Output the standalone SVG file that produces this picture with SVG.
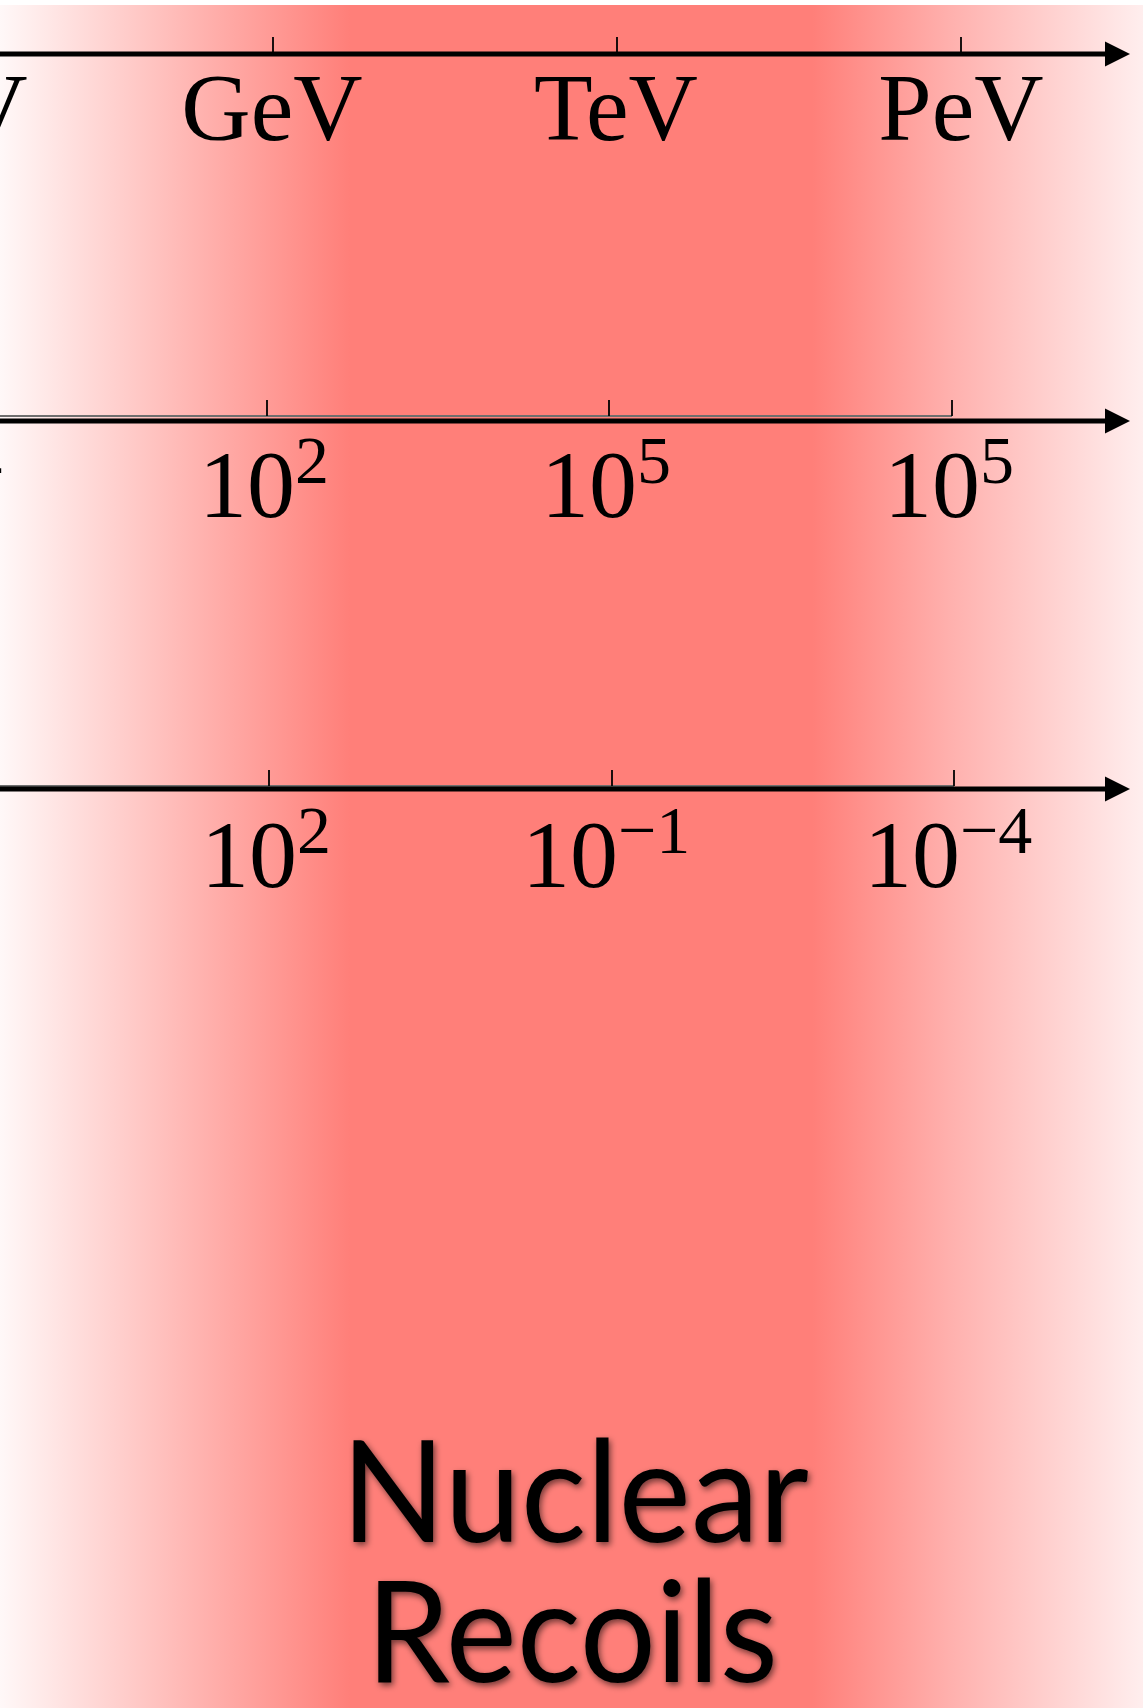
<svg xmlns="http://www.w3.org/2000/svg" width="1143" height="1708" viewBox="0 0 1143 1708">
  <defs>
    <linearGradient id="bg" x1="0" y1="0" x2="1143" y2="0" gradientUnits="userSpaceOnUse">
      <stop offset="0" stop-color="#fff8f8"/>
      <stop offset="0.306" stop-color="#ff7f79"/>
      <stop offset="0.711" stop-color="#ff7f79"/>
      <stop offset="0.83" stop-color="#ffb0ad"/>
      <stop offset="1" stop-color="#ffeeee"/>
    </linearGradient>
    <filter id="shadow" x="-10%" y="-20%" width="120%" height="140%">
      <feDropShadow dx="2" dy="3" stdDeviation="3" flood-color="#000" flood-opacity="0.55"/>
    </filter>
    <style>
      .axis { stroke: #000; stroke-width: 5; fill: none; }
      .guide { stroke: #6e6e6e; stroke-width: 2; fill: none; }
      .tick { stroke: #000; stroke-width: 1.8; fill: none; }
      .head { fill: #000; }
      .lbl { font-family: "Liberation Serif", "Times New Roman", serif; font-size: 96px; fill: #000; }
      .sup { font-size: 68px; }
      .title { font-family: Lato, "Open Sans", sans-serif; font-size: 141px; fill: #000; text-anchor: middle; filter: url(#shadow); }
    </style>
  </defs>

  <rect x="0" y="0" width="1143" height="1708" fill="#ffffff"/>
  <rect x="0" y="5" width="1143" height="1703" fill="url(#bg)"/>

  <g id="axis-energy">
    <line class="axis" x1="-10" y1="54" x2="1108" y2="54"/>
    <polygon class="head" points="1105,41.5 1130,54 1105,66.5"/>
    <line class="tick" x1="273" y1="37" x2="273" y2="52"/>
    <line class="tick" x1="617" y1="37" x2="617" y2="52"/>
    <line class="tick" x1="961" y1="37" x2="961" y2="52"/>
    <text class="lbl" x="-71" y="140" text-anchor="middle">MeV</text>
    <text class="lbl" x="272" y="140" text-anchor="middle">GeV</text>
    <text class="lbl" x="616" y="140" text-anchor="middle">TeV</text>
    <text class="lbl" x="961" y="140" text-anchor="middle">PeV</text>
  </g>

  <g id="axis-second">
    <line class="guide" x1="-10" y1="416" x2="952" y2="416"/>
    <line class="axis" x1="-10" y1="421" x2="1108" y2="421"/>
    <polygon class="head" points="1105,408.5 1130,421 1105,433.5"/>
    <line class="tick" x1="267" y1="400" x2="267" y2="416"/>
    <line class="tick" x1="609" y1="400" x2="609" y2="416"/>
    <line class="tick" x1="952" y1="400" x2="952" y2="416"/>
    <text class="lbl"><tspan x="-166" y="517">10</tspan><tspan class="sup" x="-70" y="483">−4</tspan></text>
    <text class="lbl"><tspan x="199" y="517">10</tspan><tspan class="sup" x="295" y="483">2</tspan></text>
    <text class="lbl"><tspan x="541" y="517">10</tspan><tspan class="sup" x="637" y="483">5</tspan></text>
    <text class="lbl"><tspan x="884" y="517">10</tspan><tspan class="sup" x="980" y="483">5</tspan></text>
  </g>

  <g id="axis-third">
    <line class="guide" x1="-10" y1="786" x2="954" y2="786"/>
    <line class="axis" x1="-10" y1="789" x2="1108" y2="789"/>
    <polygon class="head" points="1105,776.5 1130,789 1105,801.5"/>
    <line class="tick" x1="269" y1="770" x2="269" y2="786"/>
    <line class="tick" x1="612" y1="770" x2="612" y2="786"/>
    <line class="tick" x1="954" y1="770" x2="954" y2="786"/>
    <text class="lbl"><tspan x="201" y="887">10</tspan><tspan class="sup" x="297" y="853">2</tspan></text>
    <text class="lbl"><tspan x="522" y="887">10</tspan><tspan class="sup" x="618" y="853">−1</tspan></text>
    <text class="lbl"><tspan x="864" y="887">10</tspan><tspan class="sup" x="960" y="853">−4</tspan></text>
  </g>

  <g id="title-nuclear-recoils">
    <text class="title" x="575" y="1542" textLength="468" lengthAdjust="spacingAndGlyphs">Nuclear</text>
    <text class="title" x="572" y="1682" textLength="412" lengthAdjust="spacingAndGlyphs">Recoils</text>
  </g>
</svg>
